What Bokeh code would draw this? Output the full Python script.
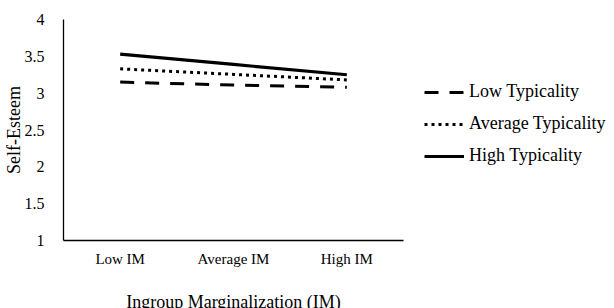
from bokeh.plotting import figure
from bokeh.models import (FactorRange, Range1d, FixedTicker, CustomJSTickFormatter,
                          Legend, LegendItem)
from bokeh.embed import file_html
from bokeh.resources import INLINE

categories = ["Low IM", "Average IM", "High IM"]
low_typ = [3.15, 3.11, 3.08]
avg_typ = [3.33, 3.255, 3.18]
high_typ = [3.53, 3.39, 3.25]
series_names = ["Low Typicality", "Average Typicality", "High Typicality"]
y_ticks = [1, 1.5, 2, 2.5, 3, 3.5, 4]

FONT = "Liberation Serif"

p = figure(frame_width=340, frame_height=221, x_range=FactorRange(*categories),
           y_range=Range1d(1, 4), output_backend="svg", toolbar_location=None,
           min_border_left=55, min_border_top=19, min_border_bottom=68,
           min_border_right=205)
p.outline_line_color = None
p.xgrid.grid_line_color = None
p.ygrid.grid_line_color = None

r_low = p.line(categories, low_typ, line_color="black", line_width=3, line_dash="14 11")
r_avg = p.line(categories, avg_typ, line_color="black", line_width=3, line_dash="3 4")
r_high = p.line(categories, high_typ, line_color="black", line_width=3.2)

# axes
xa = p.xaxis[0]
xa.axis_line_color = "black"
xa.axis_line_width = 1.3
xa.major_tick_line_color = None
xa.minor_tick_line_color = None
xa.major_label_text_font = FONT
xa.major_label_text_font_size = "15px"
xa.major_label_text_color = "black"
xa.major_label_standoff = 4
xa.axis_label = "Ingroup Marginalization (IM)"
xa.axis_label_text_font = FONT
xa.axis_label_text_font_size = "18px"
xa.axis_label_text_font_style = "normal"
xa.axis_label_text_color = "black"
xa.axis_label_standoff = 22

ya = p.yaxis[0]
ya.ticker = FixedTicker(ticks=y_ticks)
ya.formatter = CustomJSTickFormatter(code="return tick.toString();")
ya.axis_line_color = "black"
ya.axis_line_width = 1.3
ya.major_tick_line_color = None
ya.minor_tick_line_color = None
ya.major_label_text_font = FONT
ya.major_label_text_font_size = "16px"
ya.major_label_text_color = "black"
ya.major_label_standoff = 13
ya.axis_label = "Self-Esteem"
ya.axis_label_text_font = FONT
ya.axis_label_text_font_size = "18px"
ya.axis_label_text_font_style = "normal"
ya.axis_label_text_color = "black"
ya.axis_label_standoff = -2

legend = Legend(items=[LegendItem(label=series_names[0], renderers=[r_low]),
                       LegendItem(label=series_names[1], renderers=[r_avg]),
                       LegendItem(label=series_names[2], renderers=[r_high])],
                location=(21, 74))
legend.border_line_color = None
legend.background_fill_alpha = 0
legend.padding = 0
legend.margin = 0
legend.glyph_width = 40
legend.glyph_height = 20
legend.label_height = 20
legend.spacing = 11
legend.label_standoff = 5
legend.label_text_font = FONT
legend.label_text_font_size = "18px"
legend.label_text_color = "black"
p.add_layout(legend, "right")

open("out.html", "w").write(file_html(p, INLINE))
